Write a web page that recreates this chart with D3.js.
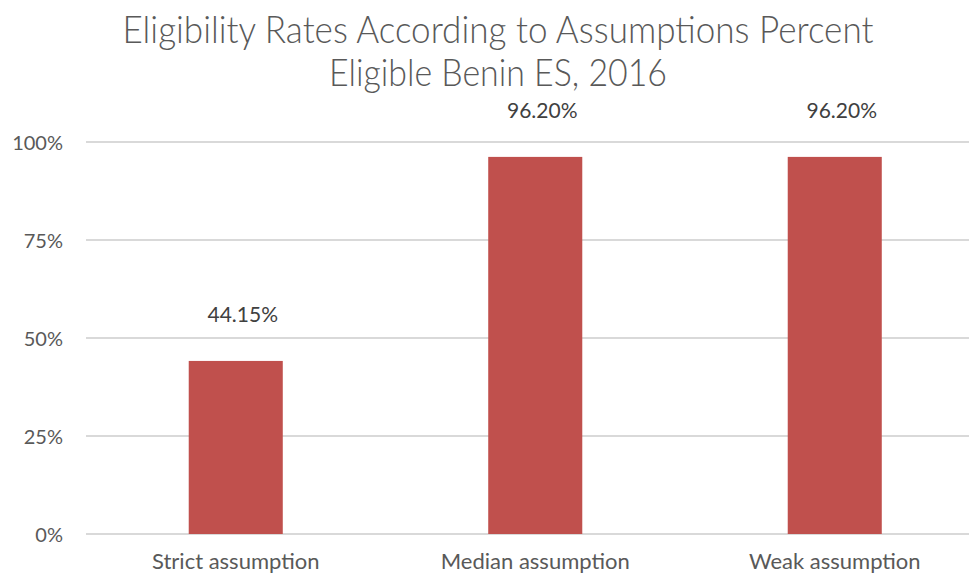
<!DOCTYPE html>
<html>
<head>
<meta charset="utf-8">
<script src="https://cdn.jsdelivr.net/npm/d3@7"></script>
<style>
  body { margin: 0; background: #fff; }
  svg { display: block; }
  text { font-family: Lato, "Open Sans", sans-serif; }
</style>
</head>
<body>
<svg id="chart" width="969" height="573"></svg>
<script>
const titleLines = ["Eligibility Rates According to Assumptions Percent", "Eligible Benin ES, 2016"];
const categories = ["Strict assumption", "Median assumption", "Weak assumption"];
const values = [44.15, 96.20, 96.20];
const valueLabels = ["44.15%", "96.20%", "96.20%"];
const yTicks = [0, 25, 50, 75, 100];
const yTickLabels = ["0%", "25%", "50%", "75%", "100%"];

(function () {
const svg = d3.select("#chart");
const W = 969;
const plotLeft = 86, plotRight = 984.5, plotTop = 142, plotBottom = 534;

const x = d3.scaleBand().domain(categories).range([plotLeft, plotRight]).paddingInner(0.686).paddingOuter(0.343);
const y = d3.scaleLinear().domain([0, 100]).range([plotBottom, plotTop]);

// gridlines
svg.append("g").selectAll("line").data(yTicks).join("line")
  .attr("x1", plotLeft).attr("x2", W)
  .attr("y1", d => y(d)).attr("y2", d => y(d))
  .attr("stroke", "#d9d9d9").attr("stroke-width", 2);

// y axis labels
const yAxis = d3.axisLeft(y).tickValues(yTicks).tickFormat((d, i) => yTickLabels[i]).tickSize(0).tickPadding(0);
const yg = svg.append("g").attr("transform", "translate(63,0)").call(yAxis);
yg.select(".domain").remove();
yg.selectAll("text").attr("font-size", 20).attr("fill", "#595959").attr("font-family", "Lato, sans-serif").attr("dy", "0.35em");

// bars
svg.append("g").selectAll("rect").data(values).join("rect")
  .attr("x", (d, i) => x(categories[i]))
  .attr("width", x.bandwidth())
  .attr("y", d => y(d))
  .attr("height", d => y(0) - y(d))
  .attr("fill", "#c0504d");

// value labels
svg.append("g").selectAll("text").data(values).join("text")
  .attr("x", (d, i) => x(categories[i]) + x.bandwidth() / 2 + 7)
  .attr("y", d => y(d) - 39)
  .attr("text-anchor", "middle")
  .attr("font-size", 21).attr("fill", "#404040")
  .text((d, i) => valueLabels[i]);

// x axis labels
const xAxis = d3.axisBottom(x).tickSize(0).tickPadding(0);
const xg = svg.append("g").attr("transform", `translate(0,${plotBottom})`).call(xAxis);
xg.select(".domain").remove();
xg.selectAll("text").attr("font-size", 22).attr("fill", "#595959").attr("font-family", "Lato, sans-serif").attr("dy", null).attr("y", 35);

// title
svg.append("g").selectAll("text").data(titleLines).join("text")
  .attr("x", 498)
  .attr("y", (d, i) => 43 + i * 43)
  .attr("text-anchor", "middle")
  .attr("font-size", 38).attr("font-weight", 300).attr("fill", "#595959")
  .attr("textLength", (d, i) => i === 0 ? 751 : 338)
  .attr("lengthAdjust", "spacingAndGlyphs")
  .text(d => d);
})();
</script>
</body>
</html>
